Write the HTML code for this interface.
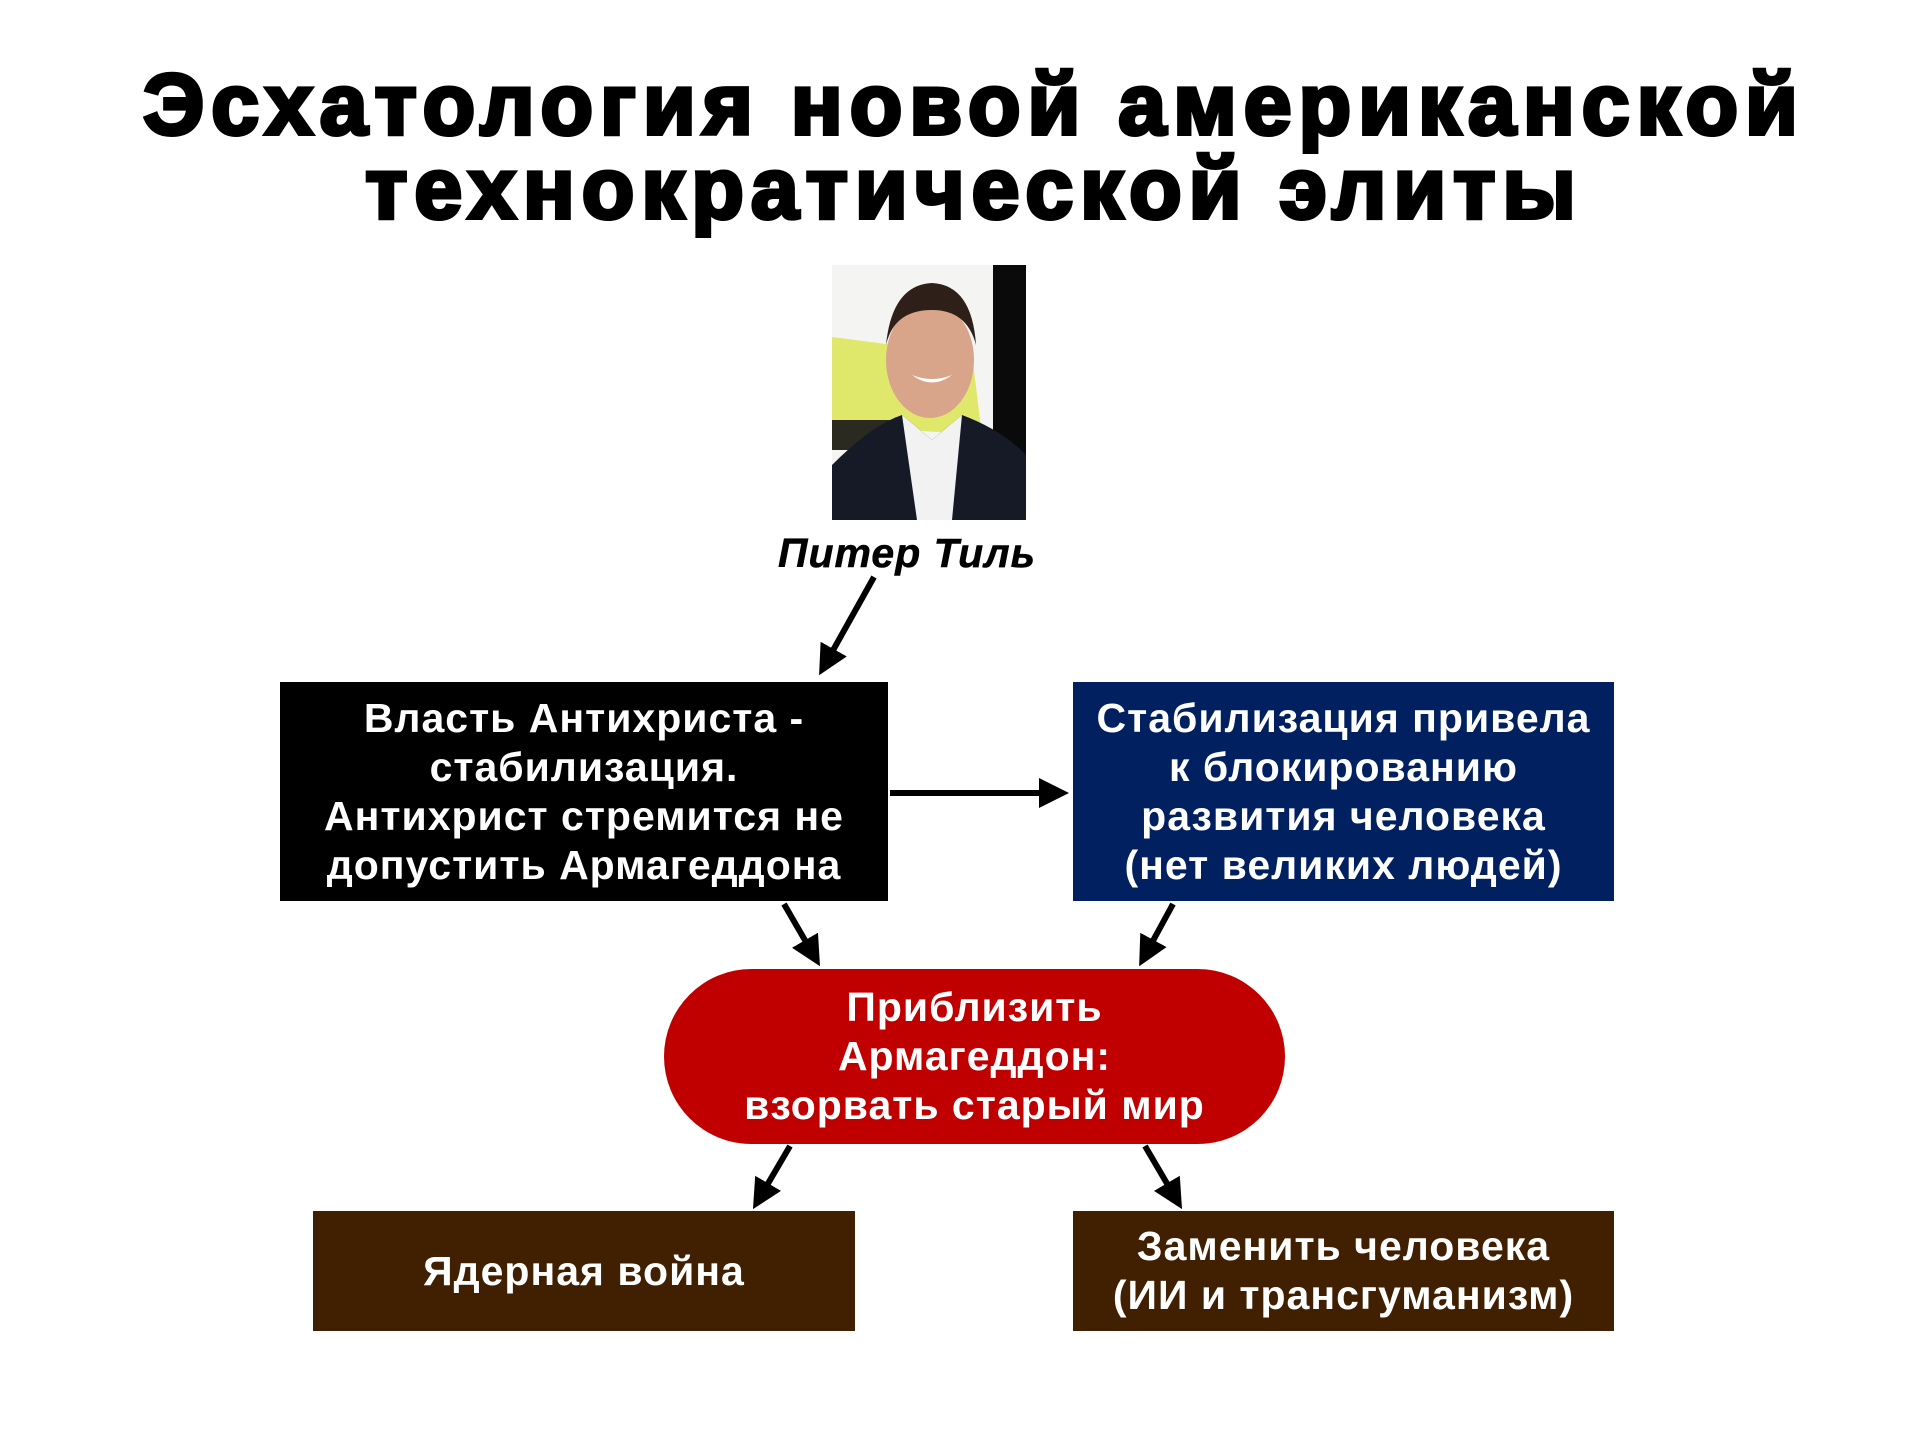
<!DOCTYPE html>
<html><head><meta charset="utf-8"><style>
body{margin:0;width:1920px;height:1440px;background:#fff;position:relative;overflow:hidden;font-family:"Liberation Sans","DejaVu Sans",sans-serif}
.t{position:absolute;left:14px;width:1920px;text-align:center;font-weight:bold;font-size:86px;line-height:86px;color:#000;-webkit-text-stroke:4px #000;letter-spacing:7px;white-space:nowrap}
.b{position:absolute;display:flex;align-items:center;justify-content:center;text-align:center;color:#fff;font-weight:bold;font-size:41px;letter-spacing:1px;line-height:49px;white-space:nowrap}
</style></head><body>
<div class="t" style="top:62px">Эсхатология новой американской</div>
<div class="t" style="top:146px">технократической элиты</div>
<svg style="position:absolute;left:832px;top:265px" width="194" height="255" viewBox="0 0 194 255">
<rect width="194" height="255" fill="#f4f4f2"/>
<polygon points="0,72 140,90 150,170 0,160" fill="#dfe86a"/>
<rect x="161" y="0" width="33" height="255" fill="#0a0a0a"/>
<rect x="0" y="155" width="60" height="30" fill="#2a2a20"/>
<ellipse cx="98" cy="95" rx="44" ry="58" fill="#d9a58a"/>
<path d="M54,80 Q60,20 100,18 Q140,20 144,80 Q135,45 100,45 Q62,45 54,80Z" fill="#2e2018"/>
<path d="M80,110 Q100,125 120,110 Q100,118 80,110Z" fill="#fff"/>
<path d="M0,200 Q40,160 70,150 L100,175 L130,150 Q170,165 194,190 L194,255 L0,255Z" fill="#161a26"/>
<polygon points="70,150 100,175 130,150 120,255 85,255" fill="#f2f2f2"/>
</svg>
<div style="position:absolute;left:700px;width:414px;top:530px;text-align:center;font-weight:bold;font-style:italic;font-size:41px;letter-spacing:1px;-webkit-text-stroke:0.5px #000;color:#000">Питер Тиль</div>
<svg style="position:absolute;left:0;top:0" width="1920" height="1440">
<defs><marker id="a" markerWidth="5" markerHeight="5" refX="4" refY="2.5" orient="auto" markerUnits="strokeWidth"><path d="M0,0 L5,2.5 L0,5Z" fill="#000"/></marker></defs>
<g stroke="#000" stroke-width="6" marker-end="url(#a)">
<line x1="874" y1="577" x2="822" y2="670"/>
<line x1="890" y1="793" x2="1063" y2="793"/>
<line x1="784" y1="904" x2="817" y2="961"/>
<line x1="1173" y1="904" x2="1142" y2="961"/>
<line x1="790" y1="1146" x2="756" y2="1204"/>
<line x1="1145" y1="1146" x2="1179" y2="1204"/>
</g></svg>
<div class="b" style="left:280px;top:682px;width:608px;height:219px;background:#000">Власть Антихриста -<br>стабилизация.<br>Антихрист стремится не<br>допустить Армагеддона</div>
<div class="b" style="left:1073px;top:682px;width:541px;height:219px;background:#002060">Стабилизация привела<br>к блокированию<br>развития человека<br>(нет великих людей)</div>
<div class="b" style="left:664px;top:969px;width:621px;height:175px;background:#c00000;border-radius:88px">Приблизить<br>Армагеддон:<br>взорвать старый мир</div>
<div class="b" style="left:313px;top:1211px;width:542px;height:120px;background:#402000">Ядерная война</div>
<div class="b" style="left:1073px;top:1211px;width:541px;height:120px;background:#402000">Заменить человека<br>(ИИ и трансгуманизм)</div>
</body></html>
